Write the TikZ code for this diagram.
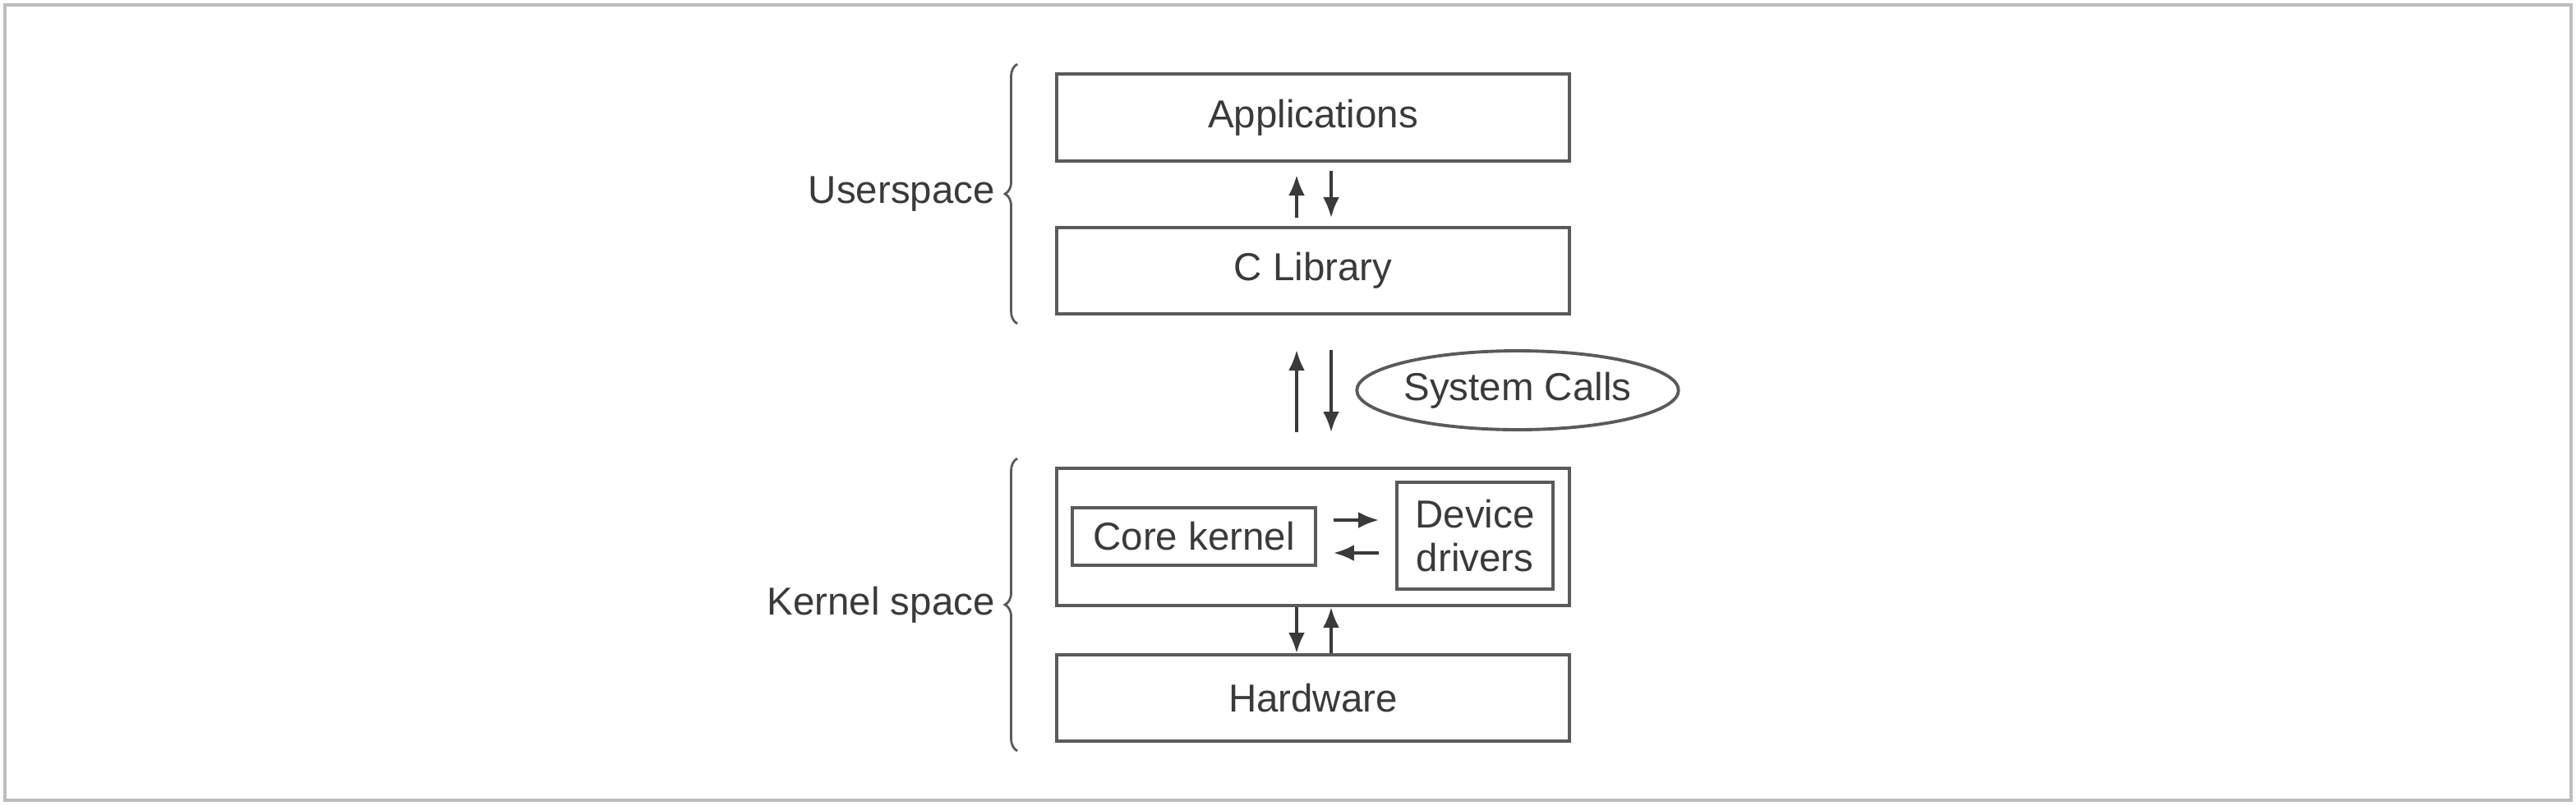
\documentclass[tikz,border=0pt]{standalone}
\usepackage{fontspec}
\setmainfont{Liberation Sans}
\usetikzlibrary{arrows.meta,positioning,shapes.geometric,decorations.pathreplacing}
\definecolor{trait}{HTML}{5A5A5A}
\definecolor{texte}{HTML}{3A3A3A}
\definecolor{cadre}{HTML}{BDBDBD}
\begin{document}
\begin{tikzpicture}[font=\fontsize{13.5}{15}\selectfont,
	boite/.style={draw=trait, line width=1.1pt, text=texte, inner sep=0pt, minimum width=6.24cm},
	fleche/.style={draw=texte, line width=1.1pt, -{Latex[length=2.5mm,width=2mm]}},
	accolade/.style={draw=trait, line width=0.8pt, decorate, decoration={brace, amplitude=1.5mm}},
	etiquette/.style={text=texte, inner sep=0pt}]
	%\draw[help lines] (0,0) grid (31,9);
	\useasboundingbox (0,0) rectangle (31.35,9.8);
	\draw[cadre, line width=0.9pt] (0.06,0.06) rectangle (31.29,9.74);
	\node[boite, minimum height=1.06cm] (app) at (15.98,8.37) {Applications};
	\node[boite, minimum height=1.05cm] (clib) at (15.98,6.505) {C Library};
	\node[boite, minimum height=1.67cm] (kern) at (15.98,3.265) {};
	\node[boite, minimum height=1.05cm] (hw) at (15.98,1.305) {Hardware};
	\node[boite, minimum width=2.96cm, minimum height=0.70cm] (core) at (14.53,3.27) {Core kernel};
	\node[boite, align=center, minimum width=1.90cm, minimum height=1.30cm] (dev) at (17.95,3.28) {Device\\drivers};
	\node[boite, ellipse, minimum width=3.78cm, minimum height=0.96cm] (sys) at (18.47,5.05) {System Calls};
	% fleches
	\draw[fleche, shorten <=1mm, shorten >=1.5mm] ([xshift=-2mm]clib.north) -- ([xshift=-2mm]app.south);
	\draw[fleche, shorten <=1mm, shorten >=1mm] ([xshift=2.2mm]app.south) -- ([xshift=2.2mm]clib.north);
	\draw[fleche, shorten <=4.2mm, shorten >=4.2mm] ([xshift=-2mm]kern.north) -- ([xshift=-2mm]clib.south);
	\draw[fleche, shorten <=4.2mm, shorten >=4.2mm] ([xshift=2.2mm]clib.south) -- ([xshift=2.2mm]kern.north);
	\draw[fleche] ([xshift=-2mm]kern.south) -- ([xshift=-2mm]hw.north);
	\draw[fleche] ([xshift=2.2mm]hw.north) -- ([xshift=2.2mm]kern.south);
	\draw[fleche, shorten <=2mm, shorten >=2mm] ([yshift=2mm]core.east) -- ([yshift=2mm]core.east -| dev.west);
	\draw[fleche, shorten <=2mm, shorten >=2mm] ([yshift=-2mm]core.east -| dev.west) -- ([yshift=-2mm]core.east);
	% accolades
	\draw[accolade] ([xshift=-4.6mm,yshift=-1mm]clib.south west) -- ([xshift=-4.6mm,yshift=1mm]app.north west)
		node[etiquette, midway, left=2.6mm] {Userspace};
	\draw[accolade] ([xshift=-4.6mm,yshift=-1mm]hw.south west) -- ([xshift=-4.6mm,yshift=1mm]kern.north west)
		node[etiquette, midway, left=2.6mm] {Kernel space};
\end{tikzpicture}
\end{document}
